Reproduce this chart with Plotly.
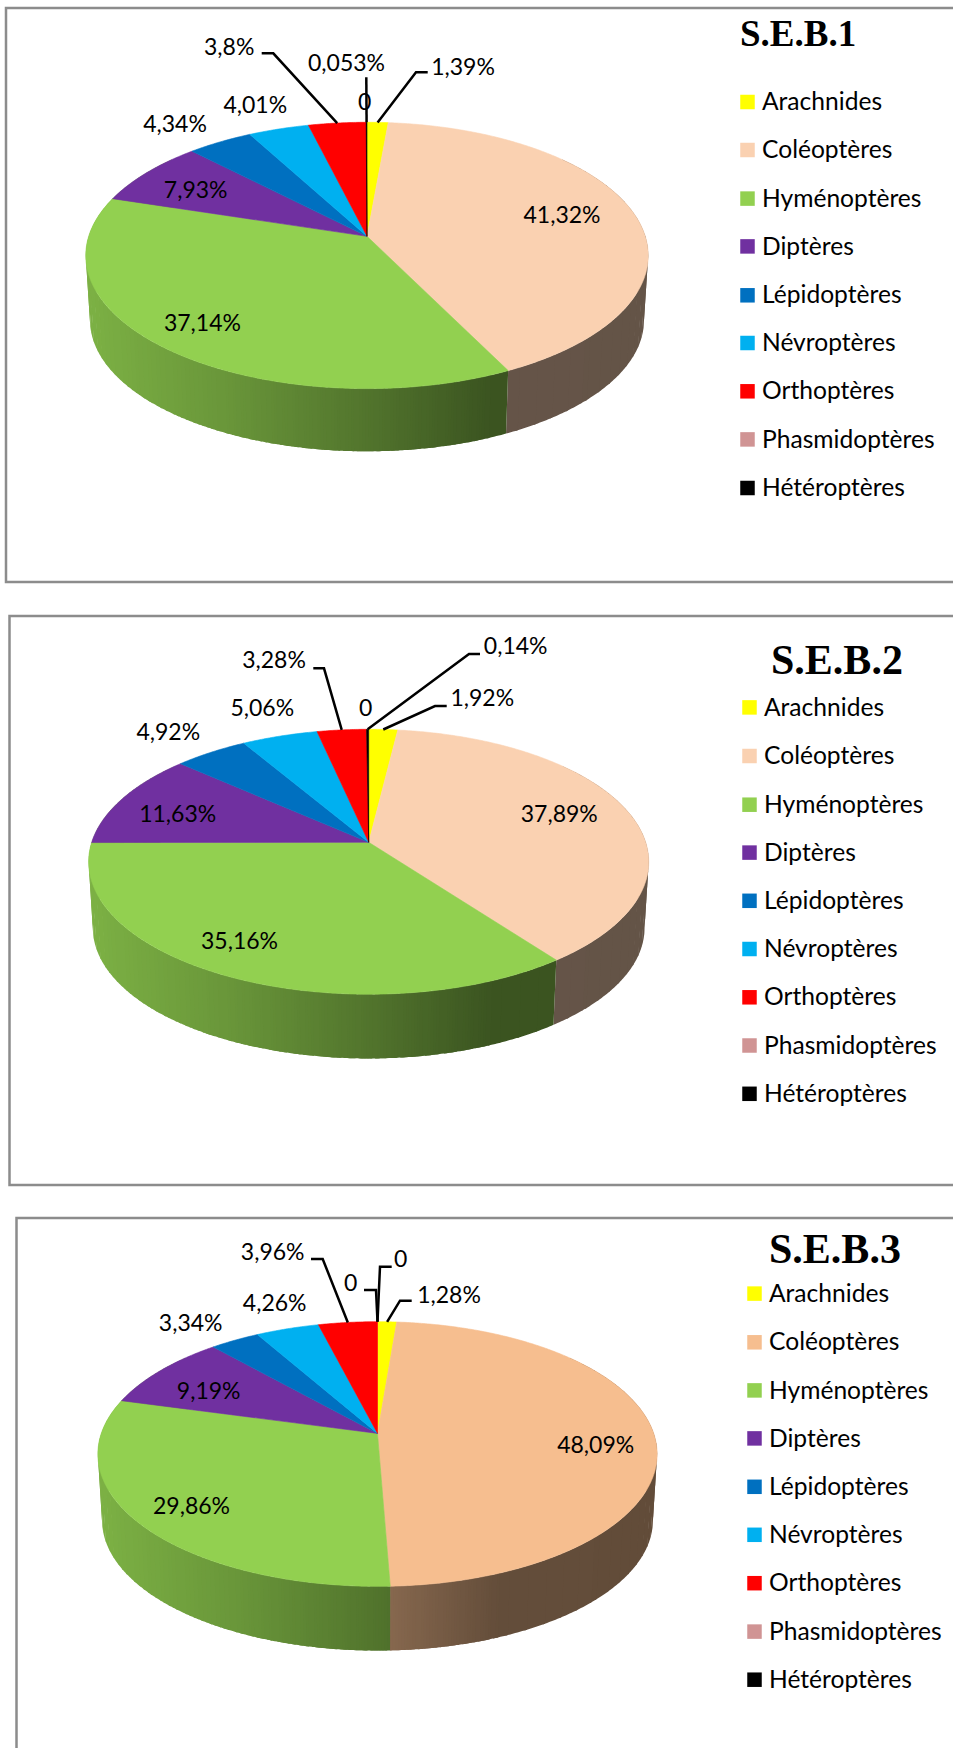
import math
import plotly.graph_objects as go

# ---------- data ----------
categories = ["Arachnides", "Coléoptères", "Hyménoptères", "Diptères", "Lépidoptères",
              "Névroptères", "Orthoptères", "Phasmidoptères", "Hétéroptères"]
seb1_values = [1.39, 41.32, 37.14, 7.93, 4.34, 4.01, 3.8, 0, 0.053]
seb2_values = [1.92, 37.89, 35.16, 11.63, 4.92, 5.06, 3.28, 0, 0.14]
seb3_values = [1.28, 48.09, 29.86, 9.19, 3.34, 4.26, 3.96, 0, 0]
titles = ["S.E.B.1", "S.E.B.2", "S.E.B.3"]

# ---------- styles ----------
colors = ["#FFFF00", "#FAD1B1", "#92D050", "#7030A0", "#0070C0", "#00B0F0", "#FF0000", "#D09494", "#000000"]
colors3 = list(colors); colors3[1] = "#F6BE8F"
FONT = "Lato"
LABEL_SIZE = 23
LEGEND_SIZE = 24.6
TEXT_DY = 2
FRAME = "#8C8C8C"

charts = [
    dict(values=seb1_values, colors=colors, cx=367, cy=236.3, A=278.3, B=130.4, k=.1438, dz=65, s=.985,
         frame=(6, 8, 582, True), title=(738, 33, 37),
         leg_x=747.5, leg_y=[102, 150, 198.6, 246.4, 295.3, 343, 391.3, 439.4, 488],
         labels=[(463, 67), (562, 215), (202.4, 322.8), (195.7, 190.7), (175, 123.8), (255.3, 105), (229.2, 47), (364.7, 102.7), (346.5, 63.2)],
         leaders={0: [(427.7, 72.3), (416, 72.3)], 6: [(261.7, 53.3), (273.3, 53.3)], 8: [(366.3, 77.3)]}),
    dict(values=seb2_values, colors=colors, cx=368.7, cy=842.3, A=277, B=129.6, k=.147, dz=66.5, s=.985,
         frame=(9.5, 616, 1185, True), title=(769, 660, 42),
         leg_x=749.5, leg_y=[707.4, 756, 804.7, 852.6, 900.8, 949, 997.3, 1045.5, 1093.8],
         labels=[(482.3, 698.7), (559.3, 813.8), (239.5, 941.5), (177.7, 814), (168.3, 732.3), (262.3, 708), (274, 660.7), (365.7, 708), (515.7, 646)],
         leaders={0: [(446.7, 706), (435, 706)], 6: [(313.3, 668.3), (324, 668.3)], 8: [(480, 654), (469, 654)]}),
    dict(values=seb3_values, colors=colors3, cx=377.5, cy=1433.4, A=276.2, B=129.1, k=.156, dz=66.5, s=.985,
         frame=(16.5, 1218, None, False), title=(767, 1249, 42),
         leg_x=754.5, leg_y=[1293.6, 1342.3, 1390.4, 1438.4, 1486.8, 1534.8, 1583.2, 1631.6, 1679.7],
         labels=[(449, 1295.3), (595.7, 1444.8), (191.5, 1506.7), (208.7, 1391.3), (190.7, 1323.3), (274.7, 1303.3), (272.7, 1252.7), (350.7, 1283.3), (400.7, 1259.3)],
         leaders={0: [(411.7, 1300.7), (400, 1300.7)], 6: [(311, 1259), (322.7, 1259)],
                  7: [(364, 1290), (376, 1290)], 8: [(391.7, 1266.7), (380, 1266.7)]}),
]


def fmt(v):
    return "0" if v == 0 else f"{v}".replace(".", ",") + "%"


def project(c, deg, bottom=False):
    t = math.radians(deg)
    u, v = math.sin(t), math.cos(t)
    d = 1 + c["k"] * v
    x, y = c["A"] * u / d, -c["B"] * v / d
    if bottom:
        return c["cx"] + c["s"] * x, c["cy"] + c["dz"] + c["s"] * y
    return c["cx"] + x, c["cy"] + y


def hex2rgb(h):
    return tuple(int(h[i:i + 2], 16) for i in (1, 3, 5))


def shade(t):
    # brightness of the side wall along the width of the pie
    stops = [(0, .85), (.25, .72), (.5, .56), (.72, .405), (1, .40)]
    for (a, p), (b, q) in zip(stops, stops[1:]):
        if t <= b:
            return p + (q - p) * (t - a) / (b - a)
    return stops[-1][1]


fig = go.Figure()


def polygon(xs, ys, color, lw=.6):
    fig.add_trace(go.Scatter(x=xs, y=ys, mode="lines", fill="toself", fillcolor=color,
                             line=dict(color=color, width=lw, simplify=False), hoverinfo="skip", showlegend=False))


annotations = []
LAST_WALL = 310
BACK_START = 265
for ci, c in enumerate(charts):
    total = sum(c["values"])
    edges = [0]
    for v in c["values"]:
        edges.append(edges[-1] + v / total * 360)

    # side wall: strips of one colour, each running a little under the next one
    left = c["cx"] - c["A"] / math.sqrt(1 - c["k"] ** 2)
    width = 2 * c["A"] / math.sqrt(1 - c["k"] ** 2)
    step = .5
    for i, v in enumerate(c["values"]):
        if v == 0 or edges[i] >= BACK_START:
            continue
        a0 = max(edges[i], 50)
        a1 = edges[i + 1] if edges[i + 1] < BACK_START else LAST_WALL
        if a1 <= a0:
            continue
        base = hex2rgb(c["colors"][i])
        n = max(1, int((a1 - a0) / step))
        angs = [a0 + (a1 - a0) * j / n for j in range(n + 1)]
        runs = []
        for j in range(n):
            x1, _ = project(c, angs[j]); x2, _ = project(c, angs[j + 1])
            b = round(shade(((x1 + x2) / 2 - left) / width) * 250) / 250
            col = "rgb(%d,%d,%d)" % tuple(round(ch * b) for ch in base)
            if runs and runs[-1][0] == col and j - runs[-1][1] < 8:
                runs[-1][2] = j + 1
            else:
                runs.append([col, j, j + 1])
        for col, j0, j1 in runs:
            end = min(j1 + 1, n)  # overlap into the next strip to hide seams
            seq = angs[j0:end + 1]
            top = [project(c, a) for a in seq]
            bot = [project(c, a, True) for a in reversed(seq)]
            pts = top + bot + [top[0]]
            polygon([p[0] for p in pts], [p[1] for p in pts], col, lw=0)

    # top face
    for i, v in enumerate(c["values"]):
        if v == 0:
            continue
        n = max(2, int((edges[i + 1] - edges[i]) * 2))
        pts = [project(c, edges[i] + (edges[i + 1] - edges[i]) * j / n) for j in range(n + 1)]
        xs = [c["cx"]] + [p[0] for p in pts] + [c["cx"]]
        ys = [c["cy"]] + [p[1] for p in pts] + [c["cy"]]
        polygon(xs, ys, c["colors"][i])

    # leaders
    for i, pts in c["leaders"].items():
        ax, ay = project(c, (edges[i] + edges[i + 1]) / 2)
        fig.add_trace(go.Scatter(x=[p[0] for p in pts] + [ax], y=[p[1] for p in pts] + [ay], mode="lines",
                                 line=dict(color="#000000", width=2.5), hoverinfo="skip", showlegend=False))

    # data labels
    fig.add_trace(go.Scatter(x=[p[0] for p in c["labels"]], y=[p[1] + TEXT_DY for p in c["labels"]], mode="text",
                             text=[fmt(v) for v in c["values"]], textposition="middle center",
                             textfont=dict(family=FONT, size=LABEL_SIZE, color="#000000"),
                             hoverinfo="skip", showlegend=False))

    # legend
    fig.add_trace(go.Scatter(x=[c["leg_x"]] * len(categories), y=c["leg_y"], mode="markers",
                             marker=dict(symbol="square", size=14.5, color=c["colors"], line=dict(width=0)),
                             hoverinfo="skip", showlegend=False))
    fig.add_trace(go.Scatter(x=[c["leg_x"] + 14.5] * len(categories), y=[y + TEXT_DY for y in c["leg_y"]], mode="text",
                             text=categories, textposition="middle right",
                             textfont=dict(family=FONT, size=LEGEND_SIZE, color="#000000"),
                             hoverinfo="skip", showlegend=False))

    # title
    tx, ty, ts = c["title"]
    annotations.append(dict(x=tx, y=ty, text="<b>%s</b>" % titles[ci], showarrow=False, xanchor="left", yanchor="middle",
                            xref="x", yref="y", font=dict(family="Liberation Serif", size=ts, color="#000000")))

    # frame
    fx, ft, fb, closed = c["frame"]
    xs = [953, fx, fx] + ([953] if closed else [])
    ys = [ft, ft, fb if closed else 1748] + ([fb] if closed else [])
    fig.add_trace(go.Scatter(x=xs, y=ys, mode="lines", line=dict(color=FRAME, width=2.5),
                             hoverinfo="skip", showlegend=False))

fig.update_layout(width=953, height=1748, margin=dict(l=0, r=0, t=0, b=0), paper_bgcolor="white", plot_bgcolor="white",
                  showlegend=False, annotations=annotations,
                  xaxis=dict(range=[0, 953], visible=False, fixedrange=True),
                  yaxis=dict(range=[1748, 0], visible=False, fixedrange=True))
fig.write_html("out.html", config=dict(displayModeBar=False),
               post_script="document.body.style.margin='0';document.documentElement.style.overflow='hidden';")
